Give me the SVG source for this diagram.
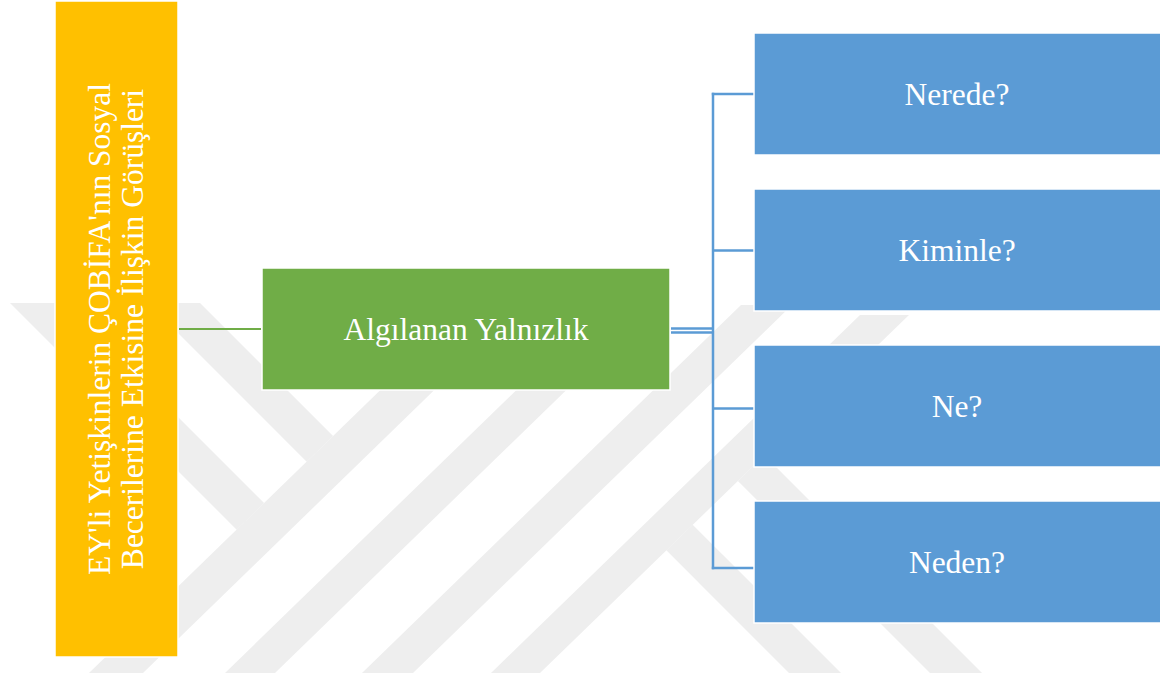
<svg xmlns="http://www.w3.org/2000/svg" width="1160" height="679" viewBox="0 0 1160 679">
  <style>
    .wm { fill: #eeeeee; }
    .box { stroke: #ffffff; stroke-width: 1.5; }
    .yellow { fill: #ffc000; }
    .green { fill: #70ad47; }
    .blue { fill: #5b9bd5; }
    .label { font-family: "Liberation Serif", "Times New Roman", serif; font-size: 31.5px; fill: #ffffff; text-anchor: middle; }
    .link-green { stroke: #70ad47; stroke-width: 2; fill: none; }
    .link-blue { stroke: #5b9bd5; stroke-width: 2.5; fill: none; }
  </style>

  <rect x="0" y="0" width="1160" height="679" fill="#ffffff"/>

  <!-- background emblem: slanted stripes -->
  <g id="watermark">
    <polygon class="wm" points="89,673 143,673 524,303 470,303"/>
    <polygon class="wm" points="225,673 275,673 656,303 606,303"/>
    <polygon class="wm" points="362,673 413,673 792,305 741,305"/>
    <polygon class="wm" points="491,673 540,673 909,315 860,315"/>
    <polygon class="wm" points="148,303 200,303 333.1,436.1 306.7,461.7"/>
    <polygon class="wm" points="10,303 64,303 264.1,503.1 236.7,529.7"/>
    <polygon class="wm" points="666.3,550.3 692.7,524.7 841,673 789,673"/>
    <polygon class="wm" points="737.9,480.9 764.3,455.3 982,673 930,673"/>
  </g>

  <g id="connectors">
    <line class="link-green" x1="179" y1="329" x2="261" y2="329"/>
    <line class="link-blue" x1="671" y1="328.5" x2="713" y2="328.5"/>
    <line class="link-blue" x1="671" y1="332.5" x2="713" y2="332.5"/>
    <line class="link-blue" x1="713" y1="92.8" x2="713" y2="569.2"/>
    <line class="link-blue" x1="711.8" y1="94" x2="754" y2="94"/>
    <line class="link-blue" x1="713" y1="250.5" x2="754" y2="250.5"/>
    <line class="link-blue" x1="713" y1="408.5" x2="754" y2="408.5"/>
    <line class="link-blue" x1="711.8" y1="568" x2="754" y2="568"/>
  </g>

  <g id="node-topic">
    <rect class="box yellow" x="55" y="1" width="123" height="656"/>
    <text class="label" transform="translate(110,329) rotate(-90)">EY'li Yetişkinlerin ÇOBİFA'nın Sosyal</text>
    <text class="label" transform="translate(143,329) rotate(-90)">Becerilerine Etkisine İlişkin Görüşleri</text>
  </g>

  <g id="node-loneliness">
    <rect class="box green" x="262" y="268" width="408" height="122"/>
    <text class="label" x="466" y="339.5">Algılanan Yalnızlık</text>
  </g>

  <g id="node-where">
    <rect class="box blue" x="754" y="33" width="410" height="122"/>
    <text class="label" x="957" y="104.5">Nerede?</text>
  </g>

  <g id="node-with-whom">
    <rect class="box blue" x="754" y="189" width="410" height="122"/>
    <text class="label" x="957" y="260.5">Kiminle?</text>
  </g>

  <g id="node-what">
    <rect class="box blue" x="754" y="345" width="410" height="122"/>
    <text class="label" x="957" y="416.5">Ne?</text>
  </g>

  <g id="node-why">
    <rect class="box blue" x="754" y="501" width="410" height="122"/>
    <text class="label" x="957" y="572.5">Neden?</text>
  </g>
</svg>
